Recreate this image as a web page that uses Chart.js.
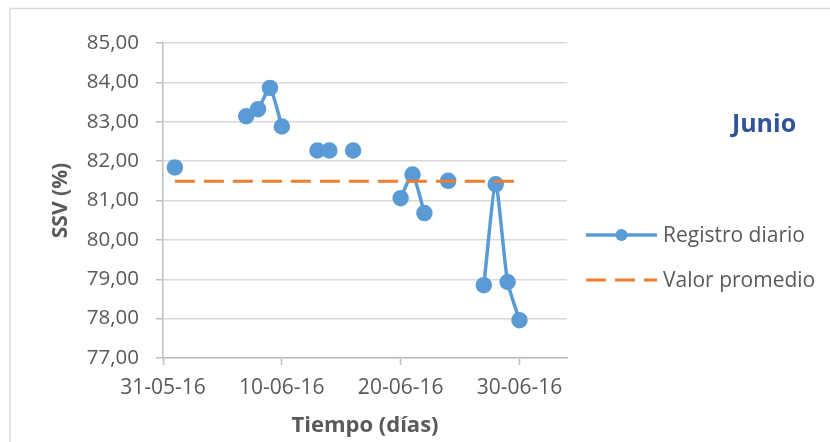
<!DOCTYPE html>
<html lang="es">
<head>
<meta charset="utf-8">
<title>SSV diario - Junio</title>
<script src="https://cdn.jsdelivr.net/npm/chart.js@4/dist/chart.umd.min.js"></script>
<style>
  html, body { margin: 0; padding: 0; background: #ffffff; }
  #wrap { position: relative; width: 830px; height: 442px; }
</style>
</head>
<body>
<div id="wrap"><canvas id="grafico"></canvas></div>
<script>
// Día de junio 2016 (1..30); el eje cuenta días desde el 31-05-16 (= 0)
const dias = [1, 2, 3, 4, 5, 6, 7, 8, 9, 10, 11, 12, 13, 14, 15,
              16, 17, 18, 19, 20, 21, 22, 23, 24, 25, 26, 27, 28, 29, 30];
// Registro diario de SSV (%); null = día sin medición
const registroDiario = [81.84, null, null, null, null, null, 83.14, 83.32, 83.86, 82.88,
                        null, null, 82.27, 82.27, null, 82.27, null, null, null, 81.06,
                        81.66, 80.68, null, 81.50, null, null, 78.85, 81.41, 78.93, 77.96];
// Valor promedio del mes, trazado del 01-06 al 30-06
const valorPromedio = 81.49;
const promedioDesde = 1;
const promedioHasta = 30;
// Marcas del eje X
const posicionesX = [0, 10, 20, 30];
const etiquetasX = ['31-05-16', '10-06-16', '20-06-16', '30-06-16'];
const ejeXMax = 34;
const ejeYMin = 77, ejeYMax = 85;

const FUENTE = '"Open Sans", "Noto Sans", "Liberation Sans", sans-serif';
const GRIS_TEXTO = '#595959';
const GRIS_EJE = '#bfbfbf';
const GRIS_REJILLA = '#d9d9d9';
const AZUL = '#5b9bd5';
const NARANJA = '#ed7d31';

const fmtNum = v => v.toFixed(2).replace('.', ',');

// Títulos de ejes, marco, leyenda y rótulo del mes
const decoracion = {
  id: 'decoracion',
  afterDraw(chart) {
    const ctx = chart.ctx;
    const area = chart.chartArea;
    ctx.save();
    // marco del gráfico
    ctx.strokeStyle = GRIS_REJILLA;
    ctx.lineWidth = 1.5;
    ctx.beginPath();
    ctx.moveTo(10, 442);
    ctx.lineTo(10, 8.5);
    ctx.lineTo(830, 8.5);
    ctx.stroke();

    // títulos de ejes
    ctx.fillStyle = GRIS_TEXTO;
    ctx.textAlign = 'center';
    ctx.textBaseline = 'middle';
    ctx.font = 'bold 22px ' + FUENTE;
    ctx.fillText('Tiempo (días)', (area.left + area.right) / 2, 426);
    ctx.save();
    ctx.font = 'bold 21px ' + FUENTE;
    ctx.translate(61, (area.top + area.bottom) / 2);
    ctx.rotate(-Math.PI / 2);
    ctx.fillText('SSV (%)', 0, 0);
    ctx.restore();

    // rótulo del mes
    ctx.fillStyle = '#2f5597';
    ctx.font = 'bold 25px ' + FUENTE;
    ctx.fillText('Junio', 764, 125);

    // leyenda
    const ds = chart.data.datasets;
    const x0 = 586, x1 = 657, xt = 663;
    const ys = [235, 280];
    ctx.textAlign = 'left';
    ctx.font = '21px ' + FUENTE;
    ds.forEach((d, i) => {
      const y = ys[i];
      ctx.strokeStyle = d.borderColor;
      ctx.lineWidth = d.borderWidth;
      ctx.setLineDash(d.borderDash || []);
      ctx.beginPath();
      ctx.moveTo(x0, y);
      ctx.lineTo(x1, y);
      ctx.stroke();
      ctx.setLineDash([]);
      if (d.pointRadius) {
        ctx.fillStyle = d.pointBackgroundColor;
        ctx.beginPath();
        ctx.arc((x0 + x1) / 2, y, 6, 0, Math.PI * 2);
        ctx.fill();
      }
      ctx.fillStyle = GRIS_TEXTO;
      ctx.fillText(d.label, xt, y + 1);
    });
    ctx.restore();
  }
};

new Chart(document.getElementById('grafico'), {
  type: 'line',
  data: {
    datasets: [
      {
        label: 'Registro diario',
        data: dias.map((d, i) => ({ x: d, y: registroDiario[i] })),
        borderColor: AZUL,
        backgroundColor: AZUL,
        pointBackgroundColor: AZUL,
        pointBorderColor: AZUL,
        borderWidth: 3.5,
        pointRadius: 6.5,
        pointHoverRadius: 6.5,
        tension: 0.2,
        spanGaps: false,
        order: 1
      },
      {
        label: 'Valor promedio',
        data: [{ x: promedioDesde, y: valorPromedio }, { x: promedioHasta, y: valorPromedio }],
        borderColor: NARANJA,
        backgroundColor: NARANJA,
        borderWidth: 3,
        borderDash: [20, 9],
        pointRadius: 0,
        tension: 0,
        order: 0
      }
    ]
  },
  options: {
    responsive: true,
    maintainAspectRatio: false,
    animation: false,
    layout: { padding: { left: 0, right: 263, top: 43, bottom: 0 } },
    plugins: {
      legend: { display: false },
      tooltip: { enabled: false },
      title: { display: false }
    },
    scales: {
      x: {
        type: 'linear',
        min: 0,
        max: ejeXMax,
        afterBuildTicks: s => { s.ticks = posicionesX.map(v => ({ value: v })); },
        afterFit: s => { s.height = 84; },
        grid: {
          drawOnChartArea: false,
          drawTicks: true,
          tickLength: 7,
          tickColor: GRIS_EJE,
          tickWidth: 1.5
        },
        border: { color: GRIS_EJE, width: 1.5 },
        ticks: {
          padding: 10,
          maxRotation: 0,
          autoSkip: false,
          color: GRIS_TEXTO,
          font: { family: FUENTE, size: 21 },
          callback: (v) => {
            const k = posicionesX.indexOf(v);
            return k >= 0 ? etiquetasX[k] : '';
          }
        }
      },
      y: {
        min: ejeYMin,
        max: ejeYMax,
        afterFit: s => { s.width = 163; },
        grid: {
          color: GRIS_REJILLA,
          lineWidth: 1.5,
          drawTicks: true,
          tickLength: 7,
          tickColor: GRIS_EJE
        },
        border: { color: GRIS_EJE, width: 1.5 },
        ticks: {
          stepSize: 1,
          padding: 17,
          color: GRIS_TEXTO,
          font: { family: FUENTE, size: 20.5 },
          callback: v => fmtNum(v)
        }
      }
    }
  },
  plugins: [decoracion]
});
</script>
</body>
</html>
